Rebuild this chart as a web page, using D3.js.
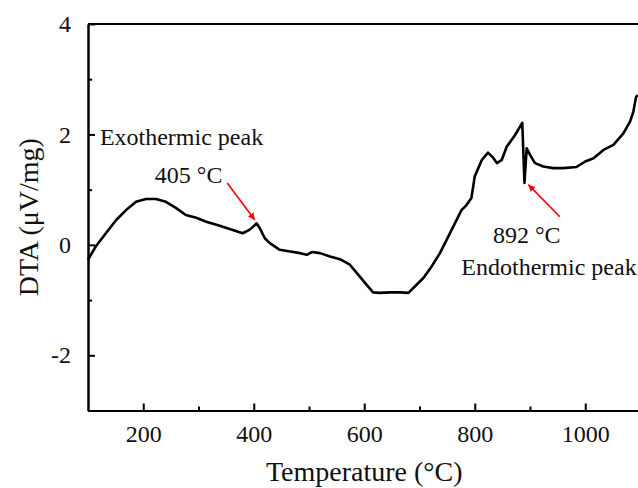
<!DOCTYPE html>
<html>
<head>
<meta charset="utf-8">
<script src="https://cdn.jsdelivr.net/npm/d3@7"></script>
<style>
  html, body { margin: 0; padding: 0; background: #fff; }
  svg { display: block; }
  text { font-family: "Liberation Serif", "Times New Roman", serif; fill: #111; }
</style>
</head>
<body>
<svg id="chart" width="638" height="488"></svg>
<script>
// Temperature (°C)
const temperature = [100, 114, 133, 151, 169, 187, 205, 223, 241, 259, 277, 296, 314, 337, 362, 380, 392, 399, 405, 411, 420, 429, 447, 466, 484, 496, 505, 520, 538, 556, 574, 589, 604, 616, 628, 647, 665, 680, 692, 707, 722, 737, 752, 764, 776, 785, 794, 800, 813, 824, 834, 840, 849, 858, 873, 886, 890, 894, 900, 909, 924, 942, 960, 984, 1000, 1015, 1033, 1051, 1069, 1081, 1087, 1092, 1095];
// DTA (μV/mg)
const dta = [-0.27, -0.03, 0.22, 0.45, 0.63, 0.78, 0.83, 0.83, 0.78, 0.67, 0.54, 0.49, 0.42, 0.35, 0.27, 0.21, 0.27, 0.33, 0.39, 0.30, 0.12, 0.03, -0.09, -0.12, -0.15, -0.18, -0.13, -0.15, -0.21, -0.26, -0.36, -0.54, -0.72, -0.86, -0.87, -0.86, -0.86, -0.87, -0.75, -0.60, -0.39, -0.15, 0.15, 0.39, 0.63, 0.72, 0.85, 1.24, 1.54, 1.67, 1.57, 1.48, 1.54, 1.78, 1.99, 2.21, 1.12, 1.75, 1.63, 1.48, 1.42, 1.39, 1.39, 1.41, 1.51, 1.57, 1.72, 1.81, 2.02, 2.23, 2.41, 2.68, 2.71];

const xMajorTicks = [200, 400, 600, 800, 1000];
const xMinorTicks = [300, 500, 700, 900];
const yMajorTicks = [-2, 0, 2, 4];
const yMinorTicks = [-3, -1, 1, 3];

const xLabel = "Temperature (°C)";
const yLabel = "DTA (μV/mg)";

const annoExo = { title: "Exothermic peak", temp: "405 °C", tip: [402, 0.45], tail: [352, 1.12] };
const annoEndo = { title: "Endothermic peak", temp: "892 °C", tip: [897, 1.09], tail: [954, 0.51] };

const svg = d3.select("#chart");
const margin = { left: 88, top: 24, right: 640.5, bottom: 410.5 };

const x = d3.scaleLinear().domain([100, 1100]).range([margin.left, margin.right]);
const y = d3.scaleLinear().domain([-3, 4]).range([margin.bottom, margin.top]);

svg.append("rect").attr("width", 638).attr("height", 488).attr("fill", "#fff");

// defs: arrowhead
svg.append("defs").append("marker")
  .attr("id", "arr").attr("viewBox", "0 0 10 10").attr("refX", 10).attr("refY", 5)
  .attr("markerWidth", 7).attr("markerHeight", 7).attr("markerUnits", "userSpaceOnUse")
  .attr("orient", "auto")
  .append("path").attr("d", "M0,0 L10,5 L0,10 Z").attr("fill", "#f00");

// curve
const pts = temperature.map((t, i) => [t, dta[i]]);
svg.append("path")
  .datum(pts)
  .attr("fill", "none")
  .attr("stroke", "#000")
  .attr("stroke-width", 2.6)
  .attr("stroke-linejoin", "round")
  .attr("d", d3.line().x(d => x(d[0])).y(d => y(d[1])));

const fmt = d => String(d); // plain hyphen-minus as in the reference

// axes
const xAxis = svg.append("g").attr("transform", `translate(0,${margin.bottom})`)
  .call(d3.axisBottom(x).tickValues(xMajorTicks).tickSizeInner(-7).tickSizeOuter(0).tickFormat(fmt));
xAxis.selectAll(".tick text").attr("font-size", 24).attr("dy", "0.71em").attr("y", 14);
svg.append("g").attr("transform", `translate(0,${margin.bottom})`)
  .call(d3.axisBottom(x).tickValues(xMinorTicks).tickSizeInner(-4).tickSizeOuter(0).tickFormat(""));

const yAxis = svg.append("g").attr("transform", `translate(${margin.left},0)`)
  .call(d3.axisLeft(y).tickValues(yMajorTicks).tickSizeInner(-7).tickSizeOuter(0).tickPadding(17).tickFormat(fmt));
yAxis.selectAll(".tick text").attr("font-size", 24);
svg.append("g").attr("transform", `translate(${margin.left},0)`)
  .call(d3.axisLeft(y).tickValues(yMinorTicks).tickSizeInner(-4).tickSizeOuter(0).tickFormat(""));

svg.selectAll(".domain").attr("stroke", "#000").attr("stroke-width", 2);
svg.selectAll(".tick line").attr("stroke", "#000").attr("stroke-width", 2);
svg.selectAll(".tick text").attr("fill", "#111").attr("font-family", "Liberation Serif, serif");

// top frame line
svg.append("line")
  .attr("x1", x(100)).attr("x2", x(1100)).attr("y1", y(4)).attr("y2", y(4))
  .attr("stroke", "#000").attr("stroke-width", 2);

// axis titles
svg.append("text").attr("x", (margin.left + margin.right) / 2).attr("y", 481)
  .attr("text-anchor", "middle").attr("font-size", 28).text(xLabel);
svg.append("text")
  .attr("transform", `translate(38,${(margin.top + margin.bottom) / 2}) rotate(-90)`)
  .attr("text-anchor", "middle").attr("font-size", 28).text(yLabel);

// annotations
svg.append("text").attr("x", x(121.5)).attr("y", y(1.81)).attr("font-size", 24).text(annoExo.title);
svg.append("text").attr("x", x(221)).attr("y", y(1.12)).attr("font-size", 24).text(annoExo.temp);
svg.append("line")
  .attr("x1", x(annoExo.tail[0])).attr("y1", y(annoExo.tail[1]))
  .attr("x2", x(annoExo.tip[0])).attr("y2", y(annoExo.tip[1]))
  .attr("stroke", "#f00").attr("stroke-width", 1.6).attr("marker-end", "url(#arr)");

svg.append("text").attr("x", x(833)).attr("y", y(0.03)).attr("font-size", 24).text(annoEndo.temp);
svg.append("text").attr("x", x(1093)).attr("y", y(-0.55)).attr("text-anchor", "end").attr("font-size", 24).text(annoEndo.title);
svg.append("line")
  .attr("x1", x(annoEndo.tail[0])).attr("y1", y(annoEndo.tail[1]))
  .attr("x2", x(annoEndo.tip[0])).attr("y2", y(annoEndo.tip[1]))
  .attr("stroke", "#f00").attr("stroke-width", 1.6).attr("marker-end", "url(#arr)");
</script>
</body>
</html>
